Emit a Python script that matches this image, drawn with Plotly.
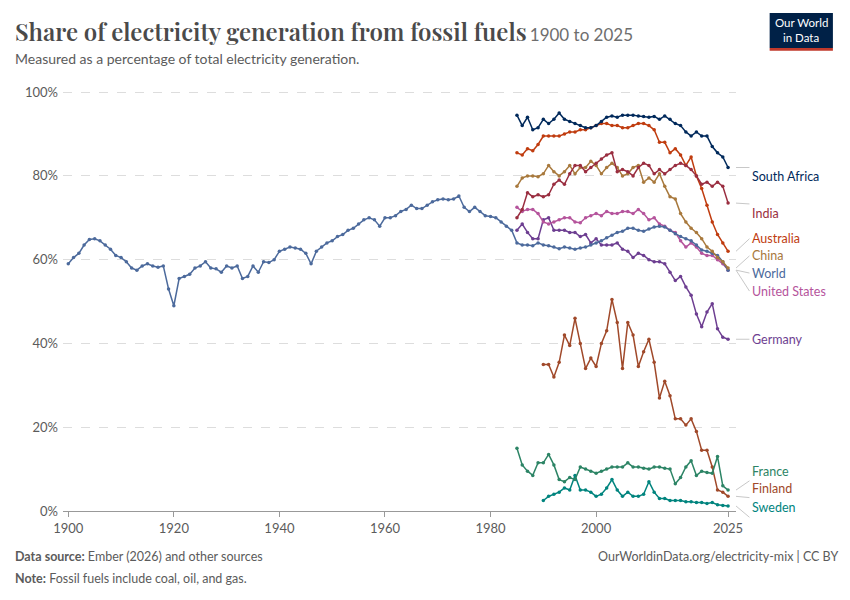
import plotly.graph_objects as go

years_world = list(range(1900, 2026))
world = [59, 60.5, 61.5, 63.5, 64.8, 65, 64.5, 63.5, 62.5, 61, 60.5, 59.5, 58, 57.5, 58.5, 59, 58.5, 58.2, 58.5, 53,
         49, 55.5, 56, 56.5, 58, 58.5, 59.5, 58, 57.8, 57, 58.5, 58, 58.5, 55.5, 56, 58.5, 57, 59.5, 59.3, 60,
         62, 62.5, 63, 62.8, 62.5, 61.5, 59, 62, 63, 64, 64.5, 65.5, 66, 67, 67.5, 68.5, 69.5, 70, 69.5, 68,
         70, 70, 70.5, 71.5, 72, 73, 72.2, 72.2, 73, 73.8, 74.3, 74.5, 74.3, 74.5, 75.2, 72.5, 71.5, 72.5, 71.5, 70.5,
         70.3, 70, 69, 68, 67, 64, 63.5, 63.5, 63.3, 64, 63.5, 63.3, 63, 62.6, 63, 62.8, 62.5, 62.8, 63, 63.5,
         64, 64.5, 65.2, 65.8, 66.5, 66.8, 67.5, 67.5, 67, 66.8, 67.3, 67.8, 68, 67.8, 67, 66.2, 65.5, 65, 64.5, 63.5,
         62.3, 62, 61.5, 61, 59.5, 57.5]

years_85 = list(range(1985, 2026))
years_90 = list(range(1990, 2026))

south_africa = [94.5, 92, 94, 91, 91.5, 93.5, 92.5, 93.5, 95, 93.5, 93, 92.5, 92, 91.5, 91.5, 92, 93, 94, 94.3, 94,
                94.5, 94.5, 94.5, 94.3, 94.2, 94, 94.2, 93.5, 94.3, 93.5, 92.5, 92, 90.5, 89.5, 90.5, 89.5, 89.5, 87,
                85.5, 84.5, 82]
australia = [85.5, 85, 86.5, 86, 87.5, 89.5, 89.5, 89.5, 89.5, 90, 90.5, 90.5, 91, 91, 91.5, 92, 92.5, 92.5, 92, 92,
             91.5, 91.5, 92, 92.5, 92.5, 92, 91, 88, 88, 85.5, 86.5, 85, 82.5, 84.5, 80, 77, 73, 69, 66, 64, 62]
china = [77.5, 79.5, 80, 80, 79.8, 80.5, 82.5, 81, 80, 81, 82.5, 80.5, 82, 82, 83.5, 82.5, 80.5, 82, 83, 82,
         80, 80.5, 82, 82.5, 78.5, 79.5, 78.5, 80.5, 77.5, 75, 74.5, 71, 69, 67.5, 66.5, 65, 63, 62, 60.5, 59.5, 58]
india = [70, 72, 76, 75, 75.5, 75, 75.5, 78, 79, 78, 80.5, 82.5, 82.5, 81, 82, 83, 84, 85, 85.5, 81,
         81.5, 81, 80, 82, 83, 82.5, 80.5, 81.5, 80.5, 81.5, 82.5, 83, 82.5, 81.5, 80, 78, 78.5, 77.5, 78.5, 77.5, 73.5]
united_states = [72.5, 71.5, 72, 72, 71, 69, 68.5, 69, 69.5, 70, 70, 69, 68.8, 70, 70.5, 71, 70.5, 71.5, 71, 71,
                 71.5, 71.5, 71, 72, 71, 69.5, 70, 68.5, 68, 67, 66.5, 64.5, 63, 64, 63, 61.5, 61, 61, 60, 59, 57.5]
germany = [67, 68.5, 66.5, 65, 65, 69.5, 70, 67, 67, 67, 66.5, 66.5, 65.5, 66, 64, 65, 63.5, 63.5, 63.5, 64,
           62.5, 62, 60.5, 61.5, 61, 60, 59.5, 59.5, 59, 57, 55, 56, 53.5, 51.5, 47, 44, 47.5, 49.5, 43.5, 41.5, 41]
france = [15, 11, 9.5, 8.5, 11.5, 11.5, 13.5, 11, 7.5, 7, 8, 7.5, 10.5, 10, 9.5, 9, 9.5, 10, 10.5, 10.5,
          10.5, 11.5, 10.5, 10.5, 10.2, 10, 10.5, 10.5, 10.2, 10, 6.5, 8, 10.5, 12, 8.5, 9.5, 9.2, 9, 13, 6, 5]
finland = [35, 35, 32, 35.5, 42, 39.5, 46, 40, 34, 36.5, 34.5, 40, 43, 50.5, 45, 34, 45, 42, 34.5, 38,
           41, 35.5, 27, 31, 27.5, 22, 22, 20.5, 22, 19, 14.5, 14.5, 10.5, 5, 4.5, 3.5]
sweden = [2.5, 3.5, 4, 4.5, 5.5, 5, 8.5, 5, 5, 4.5, 3.5, 4, 5.5, 7.5, 5, 3.5, 4.5, 3.5, 3.5, 4,
          7, 4.5, 3, 3, 2.5, 2.5, 2.5, 2.2, 2.2, 2, 2, 1.8, 2, 1.5, 1.3, 1.2]

# name, years, values, colour, label y position (in %)
series = [
    ("Sweden", years_90, sweden, "#00847e", -1.5),
    ("Finland", years_90, finland, "#a0492a", 3.2),
    ("France", years_85, france, "#2c8465", 7.2),
    ("Germany", years_85, germany, "#6d3e91", 41),
    ("United States", years_85, united_states, "#b5549c", 52.5),
    ("World", years_world, world, "#4c6a9c", 56.8),
    ("China", years_85, china, "#a8793d", 60.9),
    ("Australia", years_85, australia, "#c03c0f", 65),
    ("India", years_85, india, "#9a2e40", 73.3),
    ("South Africa", years_85, south_africa, "#00295b", 82),
]
YMAX = 100.5

fig = go.Figure()
for name, xs, ys, col, ly in series:
    fig.add_trace(go.Scatter(x=xs, y=ys, name=name, mode="lines+markers", cliponaxis=False,
                             line=dict(color=col, width=1.5), marker=dict(size=3.5, color=col)))
    fig.add_shape(type="line", xref="paper", yref="paper", x0=1.0, x1=1.02,
                  y0=ys[-1] / YMAX, y1=ly / YMAX, line=dict(color="#c8c8c8", width=1))
    fig.add_annotation(x=1.021, y=ly / YMAX, xref="paper", yref="paper", text=name, showarrow=False,
                       xanchor="left", font=dict(color=col, size=12.5, family="Lato"))

fig.update_layout(
    width=850, height=600, plot_bgcolor="white", paper_bgcolor="white",
    margin=dict(l=55, r=122, t=82, b=97), showlegend=False,
    font=dict(family="Lato", color="#5b5b5b"),
    xaxis=dict(range=[1899, 2026.5], tickvals=[1900, 1920, 1940, 1960, 1980, 2000, 2025],
               showgrid=False, showline=True, linecolor="#999", ticks="outside", ticklen=5,
               tickcolor="#999", tickfont=dict(size=13)),
    yaxis=dict(range=[0, YMAX], tickvals=[0, 20, 40, 60, 80, 100],
               ticktext=["0%", "20%", "40%", "60%", "80%", "100%"], tickfont=dict(size=13),
               gridcolor="#dddddd", griddash="dash", zeroline=False, ticklabelstandoff=4),
)

LEFT = -0.074
fig.add_annotation(xref="paper", yref="paper", x=LEFT, y=1.14, xanchor="left", yanchor="middle",
                   showarrow=False, align="left",
                   text="<span style='font-family:Playfair Display, Liberation Serif, serif;font-size:24px;font-weight:600;color:#4a4a4a'>Share of electricity generation from fossil fuels</span> <span style='font-size:17px;color:#6e6e6e'>1900 to 2025</span>")
fig.add_annotation(xref="paper", yref="paper", x=LEFT, y=1.074, xanchor="left", yanchor="middle",
                   showarrow=False, text="Measured as a percentage of total electricity generation.",
                   font=dict(size=14, color="#5b5b5b"))
fig.add_annotation(xref="paper", yref="paper", x=LEFT, y=-0.108, xanchor="left", yanchor="middle",
                   showarrow=False, text="<b>Data source:</b> Ember (2026) and other sources",
                   font=dict(size=12.5, color="#5b5b5b"))
fig.add_annotation(xref="paper", yref="paper", x=LEFT, y=-0.16, xanchor="left", yanchor="middle",
                   showarrow=False, text="<b>Note:</b> Fossil fuels include coal, oil, and gas.",
                   font=dict(size=12.5, color="#5b5b5b"))
fig.add_annotation(xref="paper", yref="paper", x=1.155, y=-0.108, xanchor="right", yanchor="middle",
                   showarrow=False, text="OurWorldinData.org/electricity-mix | CC BY",
                   font=dict(size=12.5, color="#5b5b5b"))
# logo
fig.add_shape(type="rect", xref="paper", yref="paper", x0=1.05, x1=1.144, y0=1.1, y1=1.183,
              fillcolor="#002147", line_width=0)
fig.add_shape(type="rect", xref="paper", yref="paper", x0=1.05, x1=1.144, y0=1.093, y1=1.1,
              fillcolor="#c0392b", line_width=0)
for txt, yy in [("Our World", 1.161), ("in Data", 1.124)]:
    fig.add_annotation(xref="paper", yref="paper", x=1.097, y=yy, xanchor="center", yanchor="middle",
                       showarrow=False, text=txt, font=dict(size=11.5, color="white", family="Lato"))

fig.write_html("out.html")
